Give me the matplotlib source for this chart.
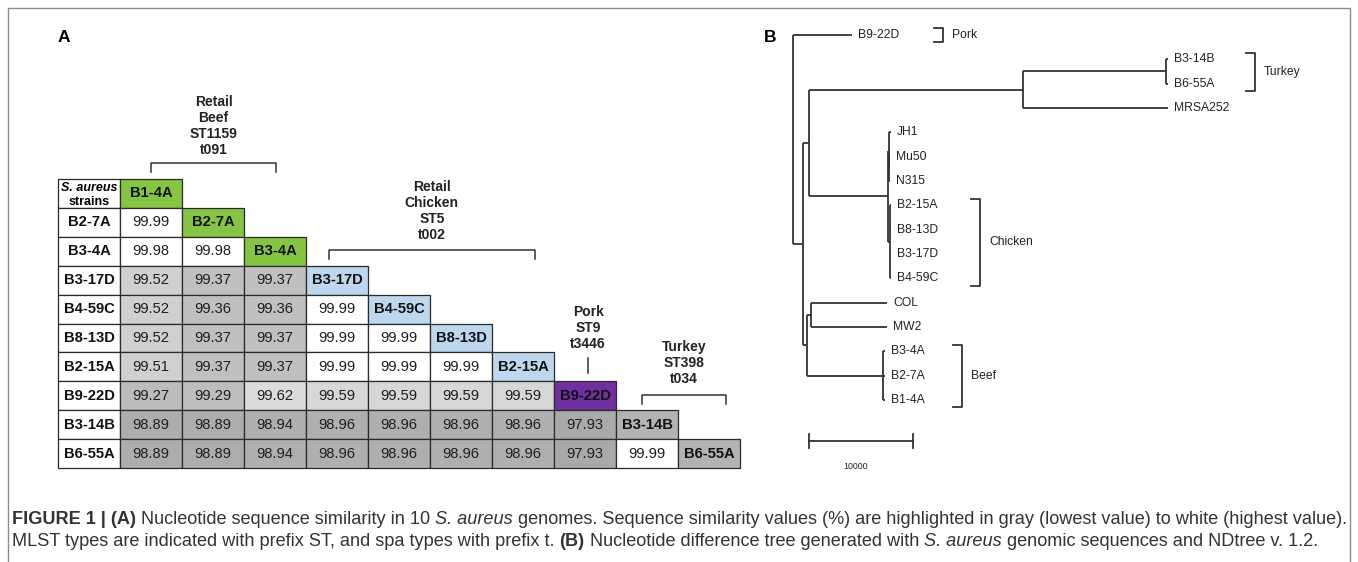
import matplotlib
matplotlib.use('Agg')
import matplotlib.pyplot as plt
from matplotlib.patches import Rectangle
from matplotlib.lines import Line2D
from matplotlib.colors import LinearSegmentedColormap
from matplotlib import font_manager as fm

plt.rcParams['font.family'] = 'Liberation Sans'

# ---- panel A : similarity table -------------------------------------------
strains = ['B1-4A', 'B2-7A', 'B3-4A', 'B3-17D', 'B4-59C', 'B8-13D',
           'B2-15A', 'B9-22D', 'B3-14B', 'B6-55A']
source = ['beef', 'beef', 'beef', 'chicken', 'chicken', 'chicken',
          'chicken', 'pork', 'turkey', 'turkey']
similarity = [
    [],
    [99.99],
    [99.98, 99.98],
    [99.52, 99.37, 99.37],
    [99.52, 99.36, 99.36, 99.99],
    [99.52, 99.37, 99.37, 99.99, 99.99],
    [99.51, 99.37, 99.37, 99.99, 99.99, 99.99],
    [99.27, 99.29, 99.62, 99.59, 99.59, 99.59, 99.59],
    [98.89, 98.89, 98.94, 98.96, 98.96, 98.96, 98.96, 97.93],
    [98.89, 98.89, 98.94, 98.96, 98.96, 98.96, 98.96, 97.93, 99.99],
]
group_labels = ['Retail\nBeef\nST1159\nt091', 'Retail\nChicken\nST5\nt002',
                'Pork\nST9\nt3446', 'Turkey\nST398\nt034']
source_colors = {'beef': '#86c444', 'chicken': '#bdd7ee',
                 'pork': '#7030a0', 'turkey': '#b3b3b3'}

# ---- panel B : nucleotide difference tree ---------------------------------
node_names = ['', 'B9-22D', '', '', '', '', 'B3-14B', 'B6-55A', 'MRSA252',
              '', '', 'JH1', '', 'Mu50', 'N315', '', 'B2-15A', 'B8-13D',
              'B3-17D', 'B4-59C', '', '', 'COL', 'MW2', '', 'B3-4A', 'B2-7A',
              'B1-4A']
node_parent = [-1, 0, 0, 2, 3, 4, 5, 5, 4, 3, 9, 10, 10, 12, 12, 9, 15, 15,
               15, 15, 2, 20, 21, 21, 20, 24, 24, 24]
branch_len = [0, 5670, 960, 580, 20580, 13750, 190, 190, 13940, 7600, 100,
              190, 30, 100, 100, 190, 100, 100, 100, 100, 380, 380, 7310,
              7310, 7310, 190, 190, 190]
clade_names = ['Pork', 'Turkey', 'Chicken', 'Beef']
clade_first = ['B9-22D', 'B3-14B', 'B2-15A', 'B3-4A']
clade_last = ['B9-22D', 'B6-55A', 'B4-59C', 'B1-4A']
scale_len = 10000

# caption runs: (text, style)
caption1 = [('FIGURE 1 | (A)', 'bold'), (' Nucleotide sequence similarity in 10 ', 'normal'),
            ('S. aureus', 'italic'),
            (' genomes. Sequence similarity values (%) are highlighted in gray '
             '(lowest value) to white (highest value).', 'normal')]
caption2 = [('MLST types are indicated with prefix ST, and spa types with prefix t. ', 'normal'),
            ('(B)', 'bold'), (' Nucleotide difference tree generated with ', 'normal'),
            ('S. aureus', 'italic'), (' genomic sequences and NDtree v. 1.2.', 'normal')]

W, H = 1358, 562
fig = plt.figure(figsize=(W / 100, H / 100), dpi=100)
fig.patch.set_facecolor('white')

def px(x, y):
    return x / W, 1 - y / H

# outer frame (open at the bottom)
fx = [8 / W, 8 / W, 1350 / W, 1350 / W]
fy = [0, 1 - 8 / H, 1 - 8 / H, 0]
fig.add_artist(Line2D(fx, fy, color='#8c8c8c', lw=1.0))

fig.text(*px(64, 37), 'A', fontsize=12.5, fontweight='bold', ha='center', va='center')
fig.text(*px(770, 37), 'B', fontsize=12.5, fontweight='bold', ha='center', va='center')

# ---------------- table ----------------
n = len(strains)
axA = fig.add_axes([58 / W, 1 - 468 / H, 682 / W, 289 / H])
axA.set_xlim(0, n + 1)
axA.set_ylim(n, 0)
axA.axis('off')

gray = LinearSegmentedColormap.from_list('simgray', [
    (0.0, '#a9a9a9'), (0.47, '#adadad'), (0.66, '#bdbdbd'), (0.70, '#c0c0c0'),
    (0.77, '#d0d0d0'), (0.81, '#d7d7d7'), (0.83, '#dedede'), (0.99, '#ffffff'),
    (1.0, '#ffffff')])
vmin, vmax = 97.93, 99.99
edge = '#2a2a2a'

def cell(r, c, color):
    axA.add_patch(Rectangle((c, r), 1, 1, facecolor=color, edgecolor=edge,
                            lw=0.9, clip_on=False))

for r in range(n):
    cell(r, 0, 'white')
    if r == 0:
        axA.text(0.5, 0.30, 'S. aureus', ha='center', va='center', fontsize=9,
                 fontweight='bold', fontstyle='italic')
        axA.text(0.5, 0.78, 'strains', ha='center', va='center', fontsize=9,
                 fontweight='bold')
    else:
        axA.text(0.5, r + 0.5, strains[r], ha='center', va='center',
                 fontsize=10.6, fontweight='bold', color='#111111')
    for c, v in enumerate(similarity[r]):
        cell(r, c + 1, gray((v - vmin) / (vmax - vmin)))
        axA.text(c + 1.5, r + 0.5, f'{v:.2f}', ha='center', va='center',
                 fontsize=10.6, color='#1e1e1e')
    cell(r, r + 1, source_colors[source[r]])
    axA.text(r + 1.5, r + 0.5, strains[r], ha='center', va='center',
             fontsize=10.6, fontweight='bold', color='#111111')

# group headers and brackets (layout positions in cell units)
bracket_x = [(1.5, 3.52), (4.37, 7.69), (8.55, 8.55), (9.42, 10.77)]
bracket_y = [-0.55, 2.46, 6.19, 7.47]
label_y = [-1.84, 1.12, 5.16, 6.37]
for lab, (x0, x1), by, ly in zip(group_labels, bracket_x, bracket_y, label_y):
    if x0 == x1:
        axA.plot([x0, x0], [by, by + 0.52], color='#333333', lw=1.1, clip_on=False)
    else:
        axA.plot([x0, x0, x1, x1], [by + 0.32, by, by, by + 0.32],
                 color='#333333', lw=1.1, clip_on=False)
    axA.text((x0 + x1) / 2, ly, lab, ha='center', va='center', fontsize=10,
             fontweight='bold', linespacing=1.18, color='#222222')

# ---------------- tree ----------------
unit_px = scale_len / 104.0     # nucleotide differences per pixel
leaf_px = 24.33
axB = fig.add_axes([793 / W, 1 - 470 / H, (1350 - 793) / W, 450 / H])
axB.set_xlim(0, (1350 - 793) * unit_px)
axB.set_ylim((470 - 35) / leaf_px, -15 / leaf_px)
axB.axis('off')

m = len(node_names)
children = [[] for _ in range(m)]
for i, p in enumerate(node_parent):
    if p >= 0:
        children[p].append(i)
xs = [0.0] * m
for i in range(1, m):
    xs[i] = xs[node_parent[i]] + branch_len[i]
ys = [0.0] * m
k = 0
for i in range(m):
    if not children[i]:
        ys[i] = k
        k += 1
for i in reversed(range(m)):
    if children[i]:
        cy = [ys[j] for j in children[i]]
        ys[i] = (min(cy) + max(cy)) / 2

lc = '#333333'
for i in range(m):
    p = node_parent[i]
    if p >= 0:
        axB.plot([xs[p], xs[i]], [ys[i], ys[i]], color=lc, lw=1.3,
                 solid_capstyle='butt', clip_on=False)
    if children[i]:
        cy = [ys[j] for j in children[i]]
        axB.plot([xs[i], xs[i]], [min(cy), max(cy)], color=lc, lw=1.3,
                 solid_capstyle='butt', clip_on=False)
    else:
        axB.text(xs[i] + 6 * unit_px, ys[i], node_names[i], ha='left',
                 va='center', fontsize=8.7, color='#222222')

leaf_y = {node_names[i]: ys[i] for i in range(m) if not children[i]}
clade_bx = [150, 462, 187, 169]   # bracket offsets from root, pixels
for name, a, b, bx in zip(clade_names, clade_first, clade_last, clade_bx):
    y0, y1 = leaf_y[a] - 0.27, leaf_y[b] + 0.3
    x1 = bx * unit_px
    x0 = x1 - 9 * unit_px
    axB.plot([x0, x1, x1, x0], [y0, y0, y1, y1], color=lc, lw=1.3, clip_on=False)
    axB.text(x1 + 9 * unit_px, (y0 + y1) / 2, name, ha='left', va='center',
             fontsize=8.7, color='#222222')

sx0 = 16 * unit_px
sy = (441 - 35) / leaf_px
axB.plot([sx0, sx0 + scale_len], [sy, sy], color=lc, lw=1.3, clip_on=False)
for sx in (sx0, sx0 + scale_len):
    axB.plot([sx, sx], [sy - 0.27, sy + 0.27], color=lc, lw=1.3, clip_on=False)
axB.text(sx0 + scale_len / 2 - 5 * unit_px, (467 - 35) / leaf_px, str(scale_len),
         ha='center', va='center', fontsize=6.3, color='#222222')

# ---------------- caption ----------------
names = {f.name for f in fm.fontManager.ttflist}
cap_font = 'Liberation Sans Narrow' if 'Liberation Sans Narrow' in names else 'Liberation Sans'
renderer = fig.canvas.get_renderer()
styles = {'normal': dict(), 'bold': dict(fontweight='bold'),
          'italic': dict(fontstyle='italic')}

def text_width(s, size, style):
    t = fig.text(0, 0, s, fontsize=size, family=cap_font, **styles[style])
    w = t.get_window_extent(renderer).width
    t.remove()
    return w

def draw_runs(x0, y0, runs, size, draw=True):
    space = text_width('x x', size, 'normal') - text_width('xx', size, 'normal')
    x = x0
    for s, style in runs:
        core = s.strip()
        x += (len(s) - len(s.lstrip())) * space
        if draw:
            fig.text(x / W, 1 - y0 / H, core, fontsize=size, family=cap_font,
                     color='#333333', ha='left', va='center', **styles[style])
        x += text_width(core, size, style)
        x += (len(s) - len(s.rstrip())) * space
    return x - x0

cap_size = 11 * 1335 / draw_runs(12, 519, caption1, 11, draw=False)
draw_runs(12, 519, caption1, cap_size)
draw_runs(12, 541, caption2, cap_size)

fig.savefig('out.png', dpi=100, facecolor='white')
